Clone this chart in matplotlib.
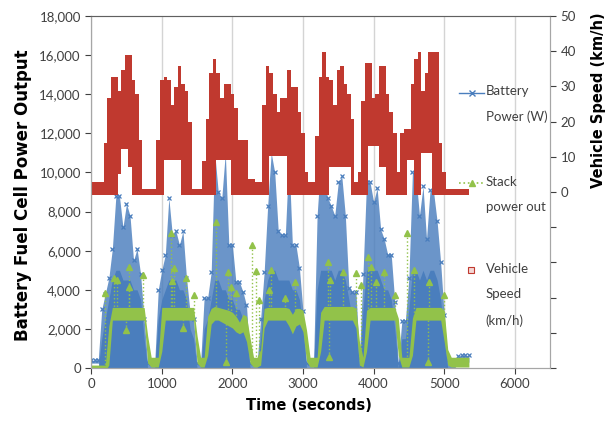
import numpy as np
import matplotlib
matplotlib.use("Agg")
import matplotlib.pyplot as plt
from matplotlib.lines import Line2D

plt.rcParams['font.family'] = ['Lato', 'DejaVu Sans']

# time base (s), one value every 50 s
t = np.arange(0, 5400, 50)

# vehicle speed (km/h): upper and lower edge of the dense marker cloud
speed_hi = [2, 2, 2, 2, 13, 26, 32, 32, 28, 34, 38, 38, 31, 27, 14, 0,
            0, 0, 0, 14, 31, 32, 31, 24, 29, 35, 30, 28, 19, 0,
            0, 0, 8, 20, 33, 37, 33, 26, 30, 30, 27, 23, 14, 14, 14,
            3, 3, 2, 2, 24, 35, 33, 27, 22, 26, 26, 34, 29, 29, 22, 16, 5,
            2, 2, 15, 32, 39, 32, 31, 24, 34, 35, 30, 27, 20, 2,
            5, 25, 36, 36, 26, 27, 35, 35, 27, 22, 16, 5,
            16, 17, 17, 30, 37, 39, 28, 33, 39, 39, 39, 13, 5,
            0, 0, 0, 0, 0, 0, 0]
speed_lo = [0, 0, 0, 0, 0, 0, 0, 0, 6, 13, 13, 8, 0, 0, 0, 0,
            0, 0, 0, 0, 0, 10, 10, 10, 10, 10, 0, 0, 0, 0,
            0, 0, 0, 0, 0, 0, 10, 10, 10, 10, 0, 0, 0, 0, 0,
            0, 0, 0, 0, 0, 0, 11, 11, 11, 11, 11, 0, 0, 0, 0, 0, 0,
            0, 0, 0, 0, 0, 0, 8, 8, 8, 8, 8, 8, 0, 0,
            0, 0, 0, 14, 14, 14, 8, 8, 0, 0, 0, 0,
            0, 0, 10, 10, 0, 0, 12, 12, 12, 0, 0, 0, 0,
            0, 0, 0, 0, 0, 0, 0]

# battery power (W): top of the spikes, bottom of the cloud, and the level the dense cloud reaches
batt_hi = [400, 400, 400, 3000, 3800, 4600, 6100, 8800, 8800, 7200, 8400, 7800, 5500, 6100, 4800, 2500,
           250, 250, 250, 4000, 5000, 5800, 8700, 6800, 7000, 6300, 7000, 4600, 2900, 2500,
           250, 250, 3600, 3600, 4900, 11000, 9000, 8700, 11000, 6300, 6300, 4400, 4400, 3900, 3200,
           250, 250, 250, 2500, 4900, 8300, 11000, 10000, 7000, 6800, 6800, 10800, 6300, 6300, 5100, 2900,
           250, 250, 250, 7800, 10500, 9500, 8700, 8300, 7800, 9500, 9800, 7800, 4100, 3900, 3900,
           500, 4800, 9500, 9500, 8500, 9200, 7100, 6600, 5800, 5800, 3400,
           250, 2400, 2400, 4600, 10000, 9800, 7800, 9300, 6600, 9100, 9000, 7500, 5400, 2700,
           400, 400, 400, 600, 650, 650, 650]
batt_lo = [250, 250, 250, 0, 0, 0, 0, 0, 0, 0, 0, 0, 0, 0, 0, 0,
           0, 0, 0, 0, 0, 0, 0, 0, 0, 0, 0, 0, 0, 0,
           0, 0, 0, 0, 0, 0, 0, 0, 0, 0, 0, 0, 0, 0, 0,
           0, 0, 0, 0, 0, 0, 0, 0, 0, 0, 0, 0, 0, 0, 0, 0,
           0, 0, 0, 0, 0, 0, 0, 0, 0, 0, 0, 0, 0, 0, 0,
           0, 0, 0, 0, 0, 0, 0, 0, 0, 0, 0,
           0, 0, 0, 0, 0, 0, 0, 0, 0, 0, 0, 0, 0, 0,
           0, 0, 0, 300, 300, 300, 300]
batt_dense = [0, 0, 0, 1500, 2500, 3500, 4500, 5000, 5000, 4500, 4500, 4500, 4000, 4000, 3500, 1500,
              0, 0, 0, 2500, 3500, 4000, 4500, 4500, 4500, 4000, 4000, 3500, 2000, 1500,
              0, 0, 2000, 2500, 3500, 4500, 4500, 4000, 4000, 3500, 3500, 3000, 3000, 2500, 2000,
              0, 0, 0, 1500, 3500, 4500, 5000, 5000, 4500, 4500, 4500, 4500, 4000, 4000, 3500, 2000,
              0, 0, 0, 4000, 5000, 5000, 5000, 5000, 4500, 5000, 5000, 4500, 3500, 2500, 2500,
              0, 3000, 5000, 5000, 5000, 5000, 4500, 4000, 4000, 3500, 2000,
              0, 1500, 1500, 3000, 5000, 5000, 4500, 5000, 4500, 5000, 5000, 4500, 3500, 1500,
              0, 0, 0, 0, 0, 0, 0]

# stack power out (W): band edges
stack_lo = [0, 0, 0, 0, 0, 300, 2600, 2600, 2600, 2600, 2600, 2600, 2600, 2600, 2600, 2600,
            400, 200, 200, 200, 1000, 2600, 2600, 2600, 2600, 2600, 2600, 2600, 2600, 2600,
            400, 200, 200, 800, 2400, 2600, 2600, 2500, 2400, 2300, 2200, 2000, 1900, 2000, 1500,
            400, 200, 200, 300, 2200, 2600, 2600, 2600, 2600, 2600, 2600, 2300, 1900, 2300, 2400, 2000,
            500, 200, 200, 200, 1000, 2600, 2600, 2600, 2600, 2600, 2600, 2600, 2600, 2600, 2200,
            300, 200, 1000, 2600, 2600, 2600, 2600, 2600, 2600, 2600, 2600, 800,
            200, 200, 200, 800, 2600, 2600, 2600, 2600, 2600, 2600, 2600, 2600, 1500,
            300, 200, 200, 200, 200, 200, 200]
stack_hi = [0, 0, 0, 0, 0, 2000, 2950, 2950, 2950, 2950, 2950, 2950, 2950, 2950, 2950, 2950,
            1500, 400, 400, 400, 2950, 2950, 2950, 2950, 2950, 2950, 2950, 2950, 2950, 2950,
            1500, 400, 400, 2500, 2900, 3000, 2950, 2900, 2850, 2800, 2700, 2500, 2200, 2600, 2500,
            1400, 400, 400, 800, 2900, 2950, 2950, 2950, 2950, 2950, 2950, 2900, 2600, 2900, 2900, 2800,
            1800, 400, 400, 400, 2700, 3000, 3000, 3000, 3000, 3000, 3000, 3000, 3000, 3000, 2900,
            1200, 400, 2800, 2950, 2950, 2950, 2950, 2950, 2950, 2950, 2950, 2400,
            400, 400, 400, 2400, 2950, 2950, 2950, 2950, 2950, 2950, 2950, 2950, 2800,
            800, 400, 400, 400, 400, 400, 400]

# isolated stack power samples away from the band
spike_t = [190, 330, 360, 533, 540, 729, 1128, 1170, 1140, 1340, 1454, 1766, 1935, 1980,
           2050, 2275, 2333, 2376, 2546, 2520, 2750, 2880, 3355, 3380, 3567, 3752, 3815,
           3920, 3965, 4035, 4149, 4300, 4470, 4575, 4787, 5000]
spike_p = [3830, 4600, 4500, 5170, 4150, 4750, 6900, 5100, 4450, 4600, 3730, 7470, 4900, 4140,
           3830, 6300, 4950, 3470, 5000, 4000, 3570, 4400, 5400, 4500, 4900, 4850, 4250,
           5670, 5150, 4400, 4900, 3730, 6900, 5000, 4400, 3730]
# samples that drop below the band
dip_t = [490, 1298, 1905, 3373, 4770]
dip_p = [1940, 2040, 300, 560, 300]

red = '#c0392f'
blue = '#4a7ebd'
green = '#92c24a'

fig = plt.figure(figsize=(6.16, 4.23), dpi=100)
ax = fig.add_axes([0.148, 0.130, 0.745, 0.832])
ax2 = ax.twinx()

# battery cloud: lighter spread up to the spikes, solid core below
ax.fill_between(t, batt_lo, batt_hi, color=blue, alpha=0.82, lw=0, zorder=1)
ax.plot(t, batt_hi, 'x', color=blue, ms=3.5, mew=0.9, zorder=1.5)
ax.fill_between(t, 0, batt_dense, color=blue, lw=0, zorder=1.6)

ax.fill_between(t, np.array(stack_lo) - 150, np.array(stack_hi) + 150, color=green, lw=0, zorder=3)
base = np.interp(spike_t, t, stack_hi)
ax.vlines(spike_t, base, spike_p, colors=green, linestyles=':', lw=1, zorder=3)
ax.plot(spike_t, spike_p, '^', color=green, ms=4, ls='none', zorder=3)
dbase = np.interp(dip_t, t, stack_lo)
ax.vlines(dip_t, dip_p, dbase, colors=green, linestyles=':', lw=1, zorder=3)
ax.plot(dip_t, dip_p, '^', color=green, ms=4, ls='none', zorder=3)

ax2.fill_between(t, np.array(speed_lo) - 0.8, np.array(speed_hi) + 0.8,
                 step='mid', color=red, lw=0)

ax.set_xlim(0, 6500)
ax.set_ylim(0, 18000)
ax2.set_ylim(-50, 50)
ax.set_xticks(range(0, 7000, 1000))
ax.set_yticks(range(0, 20000, 2000))
ax.set_yticklabels([f'{v:,}' for v in range(0, 20000, 2000)])
ax2.set_yticks(range(-50, 60, 10))
ax2.set_yticklabels([str(v) if v >= 0 else '' for v in range(-50, 60, 10)])
ax.grid(axis='x', color='#d4d4d4', lw=1)
ax.set_axisbelow(True)

for a in (ax, ax2):
    a.tick_params(labelsize=9.5, colors='#404040', length=4, width=0.8)
    for s in a.spines.values():
        s.set_color('#a6a6a6')
ax2.spines['top'].set_color('#606060')

lab = dict(fontsize=10.5, fontweight='bold', family='DejaVu Sans')
ax.set_xlabel('Time (seconds)', **lab)
ax.set_ylabel('Battery Fuel Cell Power Output', fontsize=12, fontweight='bold',
              family='DejaVu Sans')
ax2.set_ylabel('Vehicle Speed (km/h)', **lab)
ax2.yaxis.set_label_coords(1.09, 0.76)
ax.yaxis.set_label_coords(-0.13, 0.49)
ax.xaxis.set_label_coords(0.475, -0.085)

# legend laid out like the spreadsheet one: handle beside the first line
entries = [(Line2D([0.802, 0.83, 0.857], [0.782, 0.782, 0.782], color=blue, marker='x',
                   ms=4, lw=1, markevery=[1]), 'Battery\nPower (W)', 0.805),
           (Line2D([0.802, 0.83, 0.857], [0.527, 0.527, 0.527], color=green, marker='^',
                   ms=4, lw=1.2, ls=':', markevery=[1]), 'Stack\npower out', 0.545),
           (Line2D([0.827], [0.278], color=red, marker='s', ms=4, ls='none',
                   mfc='#f4d7d5', mew=0.8), 'Vehicle\nSpeed\n(km/h)', 0.297)]
for h, txt, y in entries:
    h.set_transform(ax2.transAxes)
    ax2.add_line(h)
    ax2.text(0.86, y, txt, transform=ax2.transAxes, va='top', ha='left',
             fontsize=9.5, color='#404040', linespacing=2.3)

fig.savefig('out.png', dpi=100)
